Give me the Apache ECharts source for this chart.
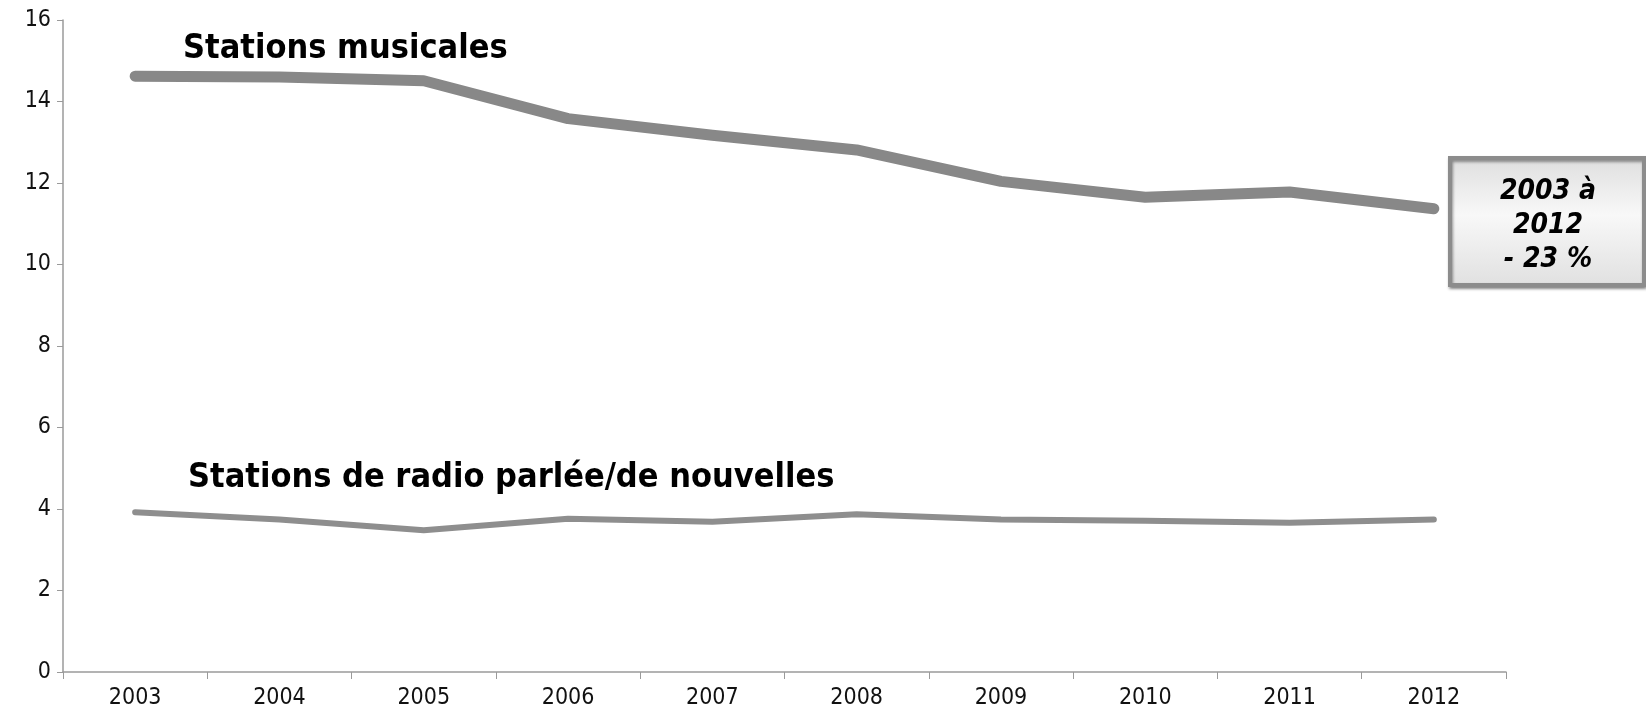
<!DOCTYPE html>
<html><head><meta charset="utf-8">
<script src="https://cdn.jsdelivr.net/npm/echarts@6/dist/echarts.min.js"></script>
<style>html,body{margin:0;padding:0;background:#fff}#c{width:1646px;height:714px}</style>
</head><body><div id="c"></div>
<script>
const years = ['2003','2004','2005','2006','2007','2008','2009','2010','2011','2012'];
const musicales = [14.62, 14.6, 14.51, 13.58, 13.17, 12.81, 12.04, 11.65, 11.78, 11.37];
const parlees = [3.92, 3.74, 3.48, 3.76, 3.69, 3.87, 3.74, 3.71, 3.66, 3.74];
const seriesNames = ['Stations musicales', 'Stations de radio parlée/de nouvelles'];
const boxLines = ['2003 à', '2012', '- 23 %'];

const chart = echarts.init(document.getElementById('c'));
const font = '"DejaVu Sans Condensed", "DejaVu Sans", sans-serif';
chart.setOption({
  animation: false,
  grid: {left: 63, right: 140, top: 20, bottom: 42},
  xAxis: {
    type: 'category', data: years, boundaryGap: true,
    axisLine: {lineStyle: {color: '#9a9a9a', width: 1.5}},
    axisTick: {show: true, length: 7, lineStyle: {color: '#9a9a9a'}},
    axisLabel: {color: '#111', fontSize: 23, fontFamily: font, margin: 15}
  },
  yAxis: {
    type: 'value', min: 0, max: 16, interval: 2,
    axisLine: {show: true, lineStyle: {color: '#9a9a9a', width: 1.5}},
    axisTick: {show: true, length: 6, lineStyle: {color: '#9a9a9a'}},
    splitLine: {show: false},
    axisLabel: {color: '#111', fontSize: 23, fontFamily: font, margin: 12}
  },
  series: [
    {name: seriesNames[0], type: 'line', data: musicales, symbol: 'none',
     lineStyle: {color: '#888888', width: 11, cap: 'round', join: 'round'}},
    {name: seriesNames[1], type: 'line', data: parlees, symbol: 'none',
     lineStyle: {color: '#8e8e8e', width: 6, cap: 'round', join: 'round'}}
  ],
  graphic: [
    {type: 'text', left: 183, top: 32, style: {text: seriesNames[0], fill: '#000',
      font: 'bold 34px "DejaVu Sans Condensed", "DejaVu Sans", sans-serif'}},
    {type: 'text', left: 188, top: 461, style: {text: seriesNames[1], fill: '#000',
      font: 'bold 34px "DejaVu Sans Condensed", "DejaVu Sans", sans-serif'}},
    {type: 'rect', shape: {x: 1450, y: 158, width: 194, height: 127},
      style: {fill: {type: 'linear', x: 0, y: 0, x2: 0, y2: 1, colorStops: [
        {offset: 0, color: '#dedede'}, {offset: 0.45, color: '#f8f8f8'}, {offset: 1, color: '#e0e0e0'}]},
        stroke: '#8c8c8c', lineWidth: 4, shadowBlur: 3, shadowColor: 'rgba(0,0,0,0.4)', shadowOffsetX: 1, shadowOffsetY: 2}},
    {type: 'text', x: 1548, y: 226, style: {text: boxLines.join('\n'), fill: '#000', align: 'center', verticalAlign: 'middle',
      lineHeight: 34, font: 'italic bold 28px "DejaVu Sans Condensed", "DejaVu Sans", sans-serif'}}
  ]
});
</script></body></html>
